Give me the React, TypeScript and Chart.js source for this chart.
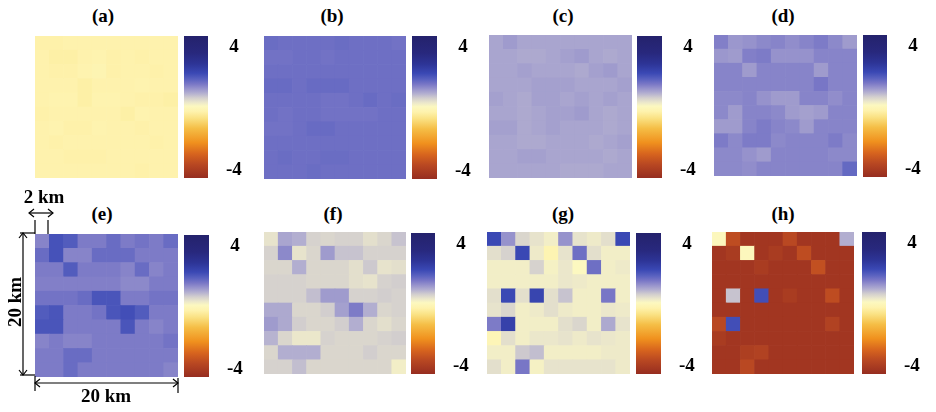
import React, { useEffect, useRef } from "react";
import { Chart, registerables } from "chart.js";

Chart.register(...registerables);

// ---------- data ----------
const COLS = ["1", "2", "3", "4", "5", "6", "7", "8", "9", "10"];
const ROWS = 10;

const CBAR_MIN = -4.5;
const CBAR_MAX = 4.7;
const CBAR_TICKS = [-4, 4];

// colormap stops (value -> rgb), high to low
const CMAP_VALUES = [4.7, 3.6, 2.9, 2.3, 1.9, 1.6, 1.3, 1.0, 0.7, 0.4, 0.15, -0.2, -0.64, -1.28, -2.2, -2.94, -3.6, -4.5];
const CMAP_COLORS = [
  [36, 34, 108], [40, 40, 125], [45, 52, 150], [58, 72, 180], [90, 98, 192], [120, 118, 198],
  [150, 146, 204], [178, 174, 208], [210, 206, 206], [235, 231, 203], [252, 248, 192], [254, 242, 172],
  [250, 225, 130], [245, 190, 70], [240, 145, 30], [215, 100, 30], [185, 72, 34], [150, 45, 32],
];

const TITLES = ["(a)", "(b)", "(c)", "(d)", "(e)", "(f)", "(g)", "(h)"];

const PANEL_A = [
  [-0.22, -0.22, -0.18, -0.18, -0.18, -0.18, -0.18, -0.18, -0.18, -0.18],
  [-0.18, -0.26, -0.26, -0.18, -0.14, -0.22, -0.18, -0.22, -0.18, -0.18],
  [-0.18, -0.22, -0.22, -0.14, -0.1, -0.22, -0.18, -0.18, -0.22, -0.18],
  [-0.18, -0.18, -0.18, -0.26, -0.18, -0.18, -0.18, -0.14, -0.18, -0.18],
  [-0.18, -0.14, -0.14, -0.26, -0.14, -0.14, -0.18, -0.22, -0.22, -0.26],
  [-0.22, -0.18, -0.18, -0.18, -0.18, -0.18, -0.26, -0.14, -0.18, -0.18],
  [-0.18, -0.14, -0.22, -0.22, -0.14, -0.18, -0.18, -0.22, -0.18, -0.18],
  [-0.18, -0.22, -0.18, -0.18, -0.18, -0.18, -0.18, -0.18, -0.22, -0.18],
  [-0.18, -0.18, -0.22, -0.22, -0.22, -0.18, -0.18, -0.18, -0.18, -0.18],
  [-0.18, -0.18, -0.18, -0.18, -0.18, -0.18, -0.18, -0.22, -0.18, -0.18],
];

const PANEL_B = [
  [1.74, 1.7, 1.7, 1.7, 1.7, 1.74, 1.7, 1.7, 1.7, 1.66],
  [1.66, 1.66, 1.7, 1.7, 1.66, 1.7, 1.7, 1.7, 1.7, 1.7],
  [1.7, 1.7, 1.7, 1.7, 1.7, 1.7, 1.7, 1.7, 1.7, 1.7],
  [1.76, 1.76, 1.7, 1.76, 1.76, 1.76, 1.7, 1.7, 1.7, 1.7],
  [1.7, 1.7, 1.7, 1.7, 1.66, 1.66, 1.7, 1.76, 1.7, 1.74],
  [1.7, 1.66, 1.7, 1.7, 1.66, 1.66, 1.66, 1.66, 1.7, 1.7],
  [1.66, 1.66, 1.7, 1.76, 1.76, 1.7, 1.7, 1.7, 1.7, 1.7],
  [1.7, 1.7, 1.7, 1.7, 1.7, 1.7, 1.7, 1.7, 1.7, 1.7],
  [1.7, 1.74, 1.7, 1.7, 1.74, 1.74, 1.7, 1.7, 1.7, 1.7],
  [1.7, 1.7, 1.7, 1.74, 1.7, 1.7, 1.7, 1.7, 1.7, 1.7],
];

const PANEL_C = [
  [1.1, 1.2, 1.1, 1.1, 1.1, 1.1, 1.1, 1.1, 1.1, 1.1],
  [1.1, 1.1, 1.05, 1.05, 1.1, 1.15, 1.2, 1.1, 1.05, 1.1],
  [1.1, 1.1, 1.15, 1.1, 1.1, 1.1, 1.05, 1.15, 1.2, 1.1],
  [1.1, 1.1, 1.1, 1.15, 1.15, 1.15, 1.1, 1.1, 1.1, 1.15],
  [1.15, 1.1, 1.05, 1.15, 1.15, 1.1, 1.15, 1.1, 1.15, 1.1],
  [1.1, 1.1, 1.05, 1.1, 1.15, 1.15, 1.2, 1.1, 1.05, 1.1],
  [1.15, 1.15, 1.05, 1.1, 1.15, 1.1, 1.1, 1.1, 1.05, 1.1],
  [1.1, 1.1, 1.05, 1.05, 1.1, 1.1, 1.1, 1.05, 1.1, 1.15],
  [1.1, 1.1, 1.15, 1.15, 1.1, 1.1, 1.1, 1.1, 1.05, 1.1],
  [1.1, 1.1, 1.1, 1.1, 1.1, 1.05, 1.05, 1.05, 1.1, 1.1],
];

const PANEL_D = [
  [1.5, 1.25, 1.3, 1.4, 1.45, 1.35, 1.45, 1.55, 1.4, 1.2],
  [1.25, 1.2, 1.5, 1.55, 1.3, 1.3, 1.3, 1.45, 1.45, 1.45],
  [1.45, 1.45, 1.2, 1.45, 1.45, 1.45, 1.45, 1.2, 1.45, 1.45],
  [1.45, 1.45, 1.45, 1.45, 1.45, 1.45, 1.45, 1.6, 1.45, 1.45],
  [1.4, 1.4, 1.45, 1.3, 1.2, 1.2, 1.45, 1.45, 1.35, 1.45],
  [1.4, 1.2, 1.45, 1.45, 1.4, 1.2, 1.15, 1.2, 1.45, 1.45],
  [1.2, 1.2, 1.45, 1.55, 1.45, 1.4, 1.2, 1.45, 1.45, 1.45],
  [1.55, 1.4, 1.55, 1.55, 1.4, 1.45, 1.45, 1.45, 1.55, 1.4],
  [1.4, 1.4, 1.3, 1.2, 1.45, 1.45, 1.45, 1.45, 1.4, 1.4],
  [1.4, 1.4, 1.35, 1.45, 1.45, 1.45, 1.45, 1.45, 1.45, 1.8],
];

const PANEL_E = [
  [1.45, 2.15, 2.0, 1.55, 1.55, 1.75, 1.55, 1.65, 1.55, 1.75],
  [1.75, 2.15, 1.45, 1.45, 1.75, 1.75, 1.75, 1.55, 1.55, 1.55],
  [1.55, 1.55, 2.0, 1.55, 1.55, 1.55, 1.45, 1.75, 1.45, 1.55],
  [1.5, 1.5, 1.5, 1.5, 1.5, 1.5, 1.4, 1.4, 1.55, 1.55],
  [1.65, 1.65, 1.65, 1.75, 2.1, 2.1, 1.55, 1.55, 1.65, 1.65],
  [2.0, 2.1, 1.55, 1.55, 1.65, 2.1, 2.2, 2.0, 1.55, 1.55],
  [2.1, 2.1, 1.55, 1.55, 1.55, 1.55, 2.1, 1.55, 1.45, 1.55],
  [1.45, 1.55, 1.45, 1.45, 1.55, 1.55, 1.55, 1.55, 1.55, 1.65],
  [1.55, 1.55, 1.75, 1.75, 1.55, 1.55, 1.55, 1.55, 1.55, 1.55],
  [1.55, 1.55, 1.75, 1.55, 1.55, 1.55, 1.55, 1.55, 1.55, 1.45],
];

const PANEL_F = [
  [0.45, 1.1, 1.0, 0.65, 0.6, 0.65, 0.65, 0.5, 0.6, 0.8],
  [0.65, 1.4, 0.45, 0.6, 1.2, 0.8, 0.8, 0.65, 0.65, 0.65],
  [0.6, 0.6, 1.0, 0.6, 0.6, 0.6, 0.5, 0.75, 0.45, 0.5],
  [0.65, 0.65, 0.65, 0.6, 0.6, 0.6, 0.5, 0.45, 0.65, 0.7],
  [0.65, 0.65, 0.65, 0.85, 1.2, 1.2, 0.65, 0.65, 0.7, 0.65],
  [1.05, 1.05, 0.6, 0.6, 0.7, 1.15, 1.55, 1.0, 0.6, 0.65],
  [1.2, 1.05, 0.7, 0.6, 0.6, 0.7, 1.0, 0.6, 0.5, 0.6],
  [0.95, 0.6, 0.4, 0.4, 0.65, 0.6, 0.6, 0.6, 0.65, 0.7],
  [0.6, 1.0, 1.0, 1.0, 0.6, 0.6, 0.6, 0.7, 0.6, 0.6],
  [0.65, 0.65, 0.85, 0.6, 0.6, 0.6, 0.6, 0.6, 0.6, 0.3],
];

const PANEL_G = [
  [2.3, 1.3, 0.6, 0.45, 0.3, 1.3, 0.45, 0.35, 0.5, 2.3],
  [0.5, 0.65, 2.3, 0.35, -0.1, 0.45, 1.7, 0.5, 0.3, 0.3],
  [0.3, 0.3, 0.3, 0.65, 0.25, 0.4, 0.15, 1.7, 0.3, 0.35],
  [0.3, 0.3, 0.3, 0.3, 0.3, 0.4, 0.35, 0.3, 0.3, 0.3],
  [0.5, 2.3, 0.5, 2.4, 0.5, 0.8, 0.3, 0.3, 1.6, 0.3],
  [0.45, 0.6, 0.3, 0.35, 0.5, 0.35, 0.3, 0.3, 0.4, 0.35],
  [1.55, 2.5, 0.3, 0.3, 0.3, 0.5, 0.6, 0.3, 1.05, 0.45],
  [0.0, 0.5, 0.3, 0.4, 0.4, 0.45, 0.35, 0.45, 0.4, 0.35],
  [0.3, 0.3, 0.75, 0.85, 0.3, 0.3, 0.3, 0.3, 0.35, 0.35],
  [0.5, 0.3, 1.6, 0.25, 0.45, 0.45, 0.45, 0.45, 0.45, 0.35],
];

const PANEL_H = [
  [0.1, -3.5, -4.2, -4.2, -4.2, -3.6, -4.2, -4.2, -4.2, 1.0],
  [-4.2, -4.0, 0.1, -4.2, -4.0, -4.2, -3.5, -4.2, -4.2, -4.2],
  [-4.2, -4.2, -4.2, -4.0, -4.2, -4.2, -4.2, -3.4, -4.2, -4.2],
  [-4.2, -4.2, -4.2, -4.2, -4.2, -4.2, -4.2, -4.2, -4.2, -4.2],
  [-4.2, 0.8, -4.2, 2.2, -4.2, -4.0, -4.2, -4.2, -3.5, -4.2],
  [-4.2, -4.2, -4.2, -4.2, -4.2, -4.2, -4.2, -4.2, -4.2, -4.2],
  [-3.6, 2.2, -4.2, -4.2, -4.2, -4.2, -4.2, -4.2, -3.8, -4.2],
  [-4.0, -4.2, -4.2, -4.2, -4.2, -4.2, -4.2, -4.2, -4.2, -4.2],
  [-4.2, -4.2, -3.9, -3.8, -4.2, -4.2, -4.2, -4.2, -4.2, -4.2],
  [-4.2, -4.2, -3.6, -4.2, -4.2, -4.2, -4.2, -4.2, -4.2, -4.2],
];

const GRIDS = [PANEL_A, PANEL_B, PANEL_C, PANEL_D, PANEL_E, PANEL_F, PANEL_G, PANEL_H];

// ---------- layout ----------
const FONT_FAMILY = "'Times New Roman', 'Liberation Serif', serif";
const FONT_SIZE = 19;
const AXIS_W = 50;

const LAYOUT = [
  { hx: 35, hy: 36, hw: 143, hh: 142, cx: 184, cy: 36, cw: 24, ch: 142, tx: 103, ty: 16 },
  { hx: 264, hy: 36, hw: 142, hh: 143, cx: 412, cy: 36, cw: 25, ch: 143, tx: 332, ty: 16 },
  { hx: 489, hy: 35, hw: 143, hh: 143, cx: 637, cy: 36, cw: 25, ch: 142, tx: 563, ty: 16 },
  { hx: 714, hy: 35, hw: 143, hh: 141, cx: 863, cy: 35, cw: 24, ch: 142, tx: 783, ty: 16 },
  { hx: 35, hy: 234, hw: 143, hh: 143, cx: 184, cy: 235, cw: 25, ch: 142, tx: 102, ty: 214 },
  { hx: 264, hy: 232, hw: 142, hh: 142, cx: 411, cy: 233, cw: 24, ch: 141, tx: 333, ty: 214 },
  { hx: 487, hy: 232, hw: 143, hh: 142, cx: 636, cy: 233, cw: 25, ch: 141, tx: 563, ty: 214 },
  { hx: 712, hy: 232, hw: 142, hh: 142, cx: 862, cy: 232, cw: 24, ch: 142, tx: 783, ty: 214 },
];

function rgb(c: number[]) {
  return `rgb(${Math.round(c[0])},${Math.round(c[1])},${Math.round(c[2])})`;
}

function colorFor(v: number) {
  if (v >= CMAP_VALUES[0]) return rgb(CMAP_COLORS[0]);
  for (let i = 0; i < CMAP_VALUES.length - 1; i++) {
    const a = CMAP_VALUES[i];
    const b = CMAP_VALUES[i + 1];
    if (v <= a && v >= b) {
      const t = (a - v) / (a - b);
      const ca = CMAP_COLORS[i];
      const cb = CMAP_COLORS[i + 1];
      return rgb([0, 1, 2].map((k) => ca[k] + (cb[k] - ca[k]) * t));
    }
  }
  return rgb(CMAP_COLORS[CMAP_COLORS.length - 1]);
}

function Heatmap({ grid, w, h }: { grid: number[][]; w: number; h: number }) {
  const ref = useRef<HTMLCanvasElement>(null);
  useEffect(() => {
    if (!ref.current) return;
    const datasets: any[] = [];
    for (let r = ROWS - 1; r >= 0; r--) {
      datasets.push({
        data: COLS.map(() => 1),
        backgroundColor: grid[r].map(colorFor),
        borderWidth: 0,
        barPercentage: 1,
        categoryPercentage: 1,
      });
    }
    const chart = new Chart(ref.current, {
      type: "bar",
      data: { labels: COLS, datasets },
      options: {
        animation: false,
        responsive: false,
        events: [],
        layout: { padding: 0 },
        plugins: { legend: { display: false }, tooltip: { enabled: false }, title: { display: false } },
        scales: {
          x: { stacked: true, display: false },
          y: { stacked: true, display: false, min: 0, max: ROWS },
        },
      },
    });
    return () => chart.destroy();
  }, [grid, w, h]);
  return <canvas ref={ref} width={w} height={h} style={{ display: "block", width: w, height: h }} />;
}

function Colorbar({ w, h }: { w: number; h: number }) {
  const ref = useRef<HTMLCanvasElement>(null);
  useEffect(() => {
    if (!ref.current) return;
    const chart = new Chart(ref.current, {
      type: "bar",
      data: {
        labels: [""],
        datasets: [
          {
            data: [[CBAR_MIN, CBAR_MAX]] as any,
            borderWidth: 0,
            barPercentage: 1,
            categoryPercentage: 1,
            backgroundColor: (ctx: any) => {
              const c = ctx.chart;
              if (!c.chartArea) return rgb(CMAP_COLORS[0]);
              const ys = c.scales.y;
              const top = ys.getPixelForValue(CBAR_MAX);
              const bottom = ys.getPixelForValue(CBAR_MIN);
              const g = c.ctx.createLinearGradient(0, top, 0, bottom);
              CMAP_VALUES.forEach((v, i) => {
                const t = (CBAR_MAX - v) / (CBAR_MAX - CBAR_MIN);
                if (t >= 0 && t <= 1) g.addColorStop(t, rgb(CMAP_COLORS[i]));
              });
              return g;
            },
          },
        ],
      },
      options: {
        animation: false,
        responsive: false,
        events: [],
        layout: { padding: 0 },
        plugins: { legend: { display: false }, tooltip: { enabled: false } },
        scales: {
          x: { display: false },
          y: {
            position: "right",
            min: CBAR_MIN,
            max: CBAR_MAX,
            grid: { display: false, drawTicks: false },
            border: { display: false },
            afterBuildTicks: (s: any) => {
              s.ticks = CBAR_TICKS.map((v) => ({ value: v }));
            },
            afterFit: (s: any) => {
              s.width = AXIS_W;
              s.paddingTop = 0;
              s.paddingBottom = 0;
            },
            ticks: {
              padding: 18,
              crossAlign: "center",
              color: "#000",
              font: { family: FONT_FAMILY, size: FONT_SIZE, weight: "bold" },
              callback: (v: any) => String(v),
            },
          },
        },
      },
    } as any);
    return () => chart.destroy();
  }, [w, h]);
  const W = w + AXIS_W;
  return <canvas ref={ref} width={W} height={h} style={{ display: "block", width: W, height: h }} />;
}

export default function App() {
  const textStyle = { fontFamily: FONT_FAMILY, fontWeight: "bold" as const, fontSize: FONT_SIZE, fill: "#000" };
  return (
    <div
      style={{
        position: "absolute",
        left: 0,
        top: 0,
        width: 936,
        height: 412,
        background: "#fff",
        overflow: "hidden",
      }}
    >
      {LAYOUT.map((p, i) => (
        <React.Fragment key={i}>
          <div style={{ position: "absolute", left: p.hx, top: p.hy }}>
            <Heatmap grid={GRIDS[i]} w={p.hw} h={p.hh} />
          </div>
          <div style={{ position: "absolute", left: p.cx, top: p.cy }}>
            <Colorbar w={p.cw} h={p.ch} />
          </div>
          <div
            style={{
              position: "absolute",
              left: p.tx,
              top: p.ty,
              transform: "translate(-50%, -50%)",
              fontFamily: FONT_FAMILY,
              fontWeight: "bold",
              fontSize: FONT_SIZE,
              lineHeight: "22px",
              whiteSpace: "nowrap",
              color: "#000",
            }}
          >
            {TITLES[i]}
          </div>
        </React.Fragment>
      ))}
      <svg
        width={936}
        height={412}
        style={{ position: "absolute", left: 0, top: 0, pointerEvents: "none" }}
      >
        <g stroke="#000" strokeWidth={1.2} fill="none">
          <line x1={29} y1={213} x2={53} y2={213} />
          <polyline points="34,209 29,213 34,217" />
          <polyline points="48,209 53,213 48,217" />
          <line x1={35} y1={220} x2={35} y2={234} />
          <line x1={48} y1={220} x2={48} y2={234} />
          <line x1={23} y1={233} x2={23} y2={375} />
          <polyline points="19,238 23,233 27,238" />
          <polyline points="19,370 23,375 27,370" />
          <line x1={20} y1={233} x2={35} y2={233} />
          <line x1={20} y1={375} x2={35} y2={375} />
          <line x1={35} y1={383} x2={178} y2={383} />
          <polyline points="40,379 35,383 40,387" />
          <polyline points="173,379 178,383 173,387" />
          <line x1={35} y1={376} x2={35} y2={391} />
          <line x1={178} y1={378} x2={178} y2={393} />
        </g>
        <text x={44} y={203} textAnchor="middle" style={textStyle}>
          2 km
        </text>
        <text x={106} y={402} textAnchor="middle" style={textStyle}>
          20 km
        </text>
        <text transform="translate(21,302) rotate(-90)" textAnchor="middle" style={textStyle}>
          20 km
        </text>
      </svg>
    </div>
  );
}
